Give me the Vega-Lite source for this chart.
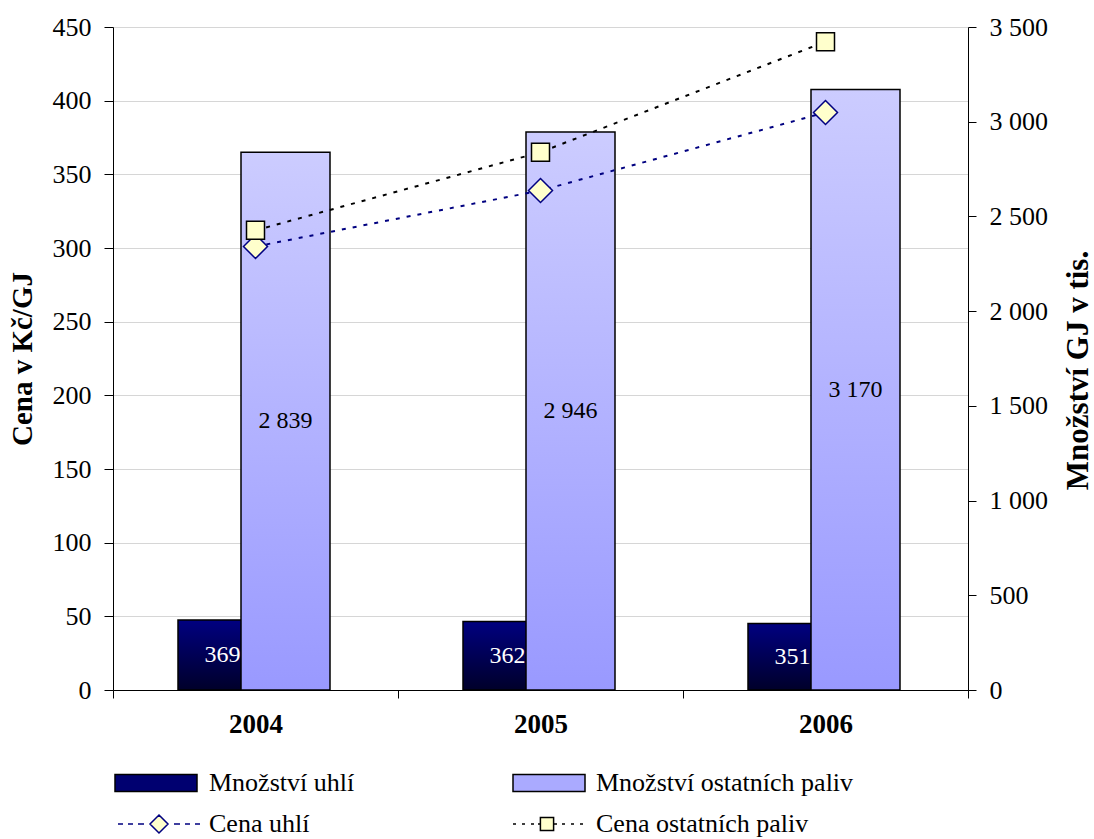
{
  "$schema": "https://vega.github.io/schema/vega-lite/v6.json",
  "width": 855,
  "height": 663,
  "autosize": {"type": "none"},
  "padding": {"left": 113, "top": 27, "right": 126, "bottom": 149},
  "background": "white",
  "config": {
    "font": "Liberation Serif",
    "locale": {"number": {"decimal": ",", "thousands": " ", "grouping": [3], "currency": ["", " Kč"]}},
    "view": {
      "stroke": null,
      "fill": {"gradient": "linear", "x1": 0, "y1": 0, "x2": 1, "y2": 1,
        "stops": [{"offset": 0, "color": "#bebebe"}, {"offset": 0.5, "color": "#ffffff"}, {"offset": 1, "color": "#bebebe"}]}
    },
    "axis": {
      "labelFont": "Liberation Serif",
      "titleFont": "Liberation Serif",
      "labelColor": "black",
      "titleColor": "black",
      "domainColor": "black",
      "tickColor": "black",
      "domainWidth": 1,
      "tickWidth": 1,
      "labelFontSize": 26
    },
    "legend": {"labelFont": "Liberation Serif"}
  },
  "datasets": {
    "mnozstvi": [
      {"rok": "2004", "serie": "Množství uhlí", "hodnota": 369},
      {"rok": "2004", "serie": "Množství ostatních paliv", "hodnota": 2839},
      {"rok": "2005", "serie": "Množství uhlí", "hodnota": 362},
      {"rok": "2005", "serie": "Množství ostatních paliv", "hodnota": 2946},
      {"rok": "2006", "serie": "Množství uhlí", "hodnota": 351},
      {"rok": "2006", "serie": "Množství ostatních paliv", "hodnota": 3170}
    ],
    "ceny": [
      {"rok": "2004", "serie": "Cena uhlí", "cena": 301},
      {"rok": "2005", "serie": "Cena uhlí", "cena": 339},
      {"rok": "2006", "serie": "Cena uhlí", "cena": 392},
      {"rok": "2004", "serie": "Cena ostatních paliv", "cena": 312},
      {"rok": "2005", "serie": "Cena ostatních paliv", "cena": 365},
      {"rok": "2006", "serie": "Cena ostatních paliv", "cena": 440}
    ],
    "legenda": [
      {"serie": "Množství uhlí"},
      {"serie": "Množství ostatních paliv"},
      {"serie": "Cena uhlí"},
      {"serie": "Cena ostatních paliv"}
    ]
  },
  "layer": [
    {
      "data": {"name": "mnozstvi"},
      "transform": [{"filter": "datum.serie == 'Množství uhlí'"}],
      "mark": {"type": "bar", "width": 89, "stroke": "black", "strokeWidth": 1.5,
        "fill": {"gradient": "linear", "x1": 0, "y1": 0, "x2": 0, "y2": 1,
          "stops": [{"offset": 0, "color": "#000080"}, {"offset": 1, "color": "#00002a"}]}},
      "encoding": {
        "x": {
          "field": "rok", "type": "nominal",
          "scale": {"paddingInner": 0, "paddingOuter": 0},
          "axis": {
            "title": null, "labelAngle": 0, "labelFontWeight": "bold", "labelFontSize": 27,
            "tickBand": "extent", "tickSize": 8, "labelPadding": 13, "grid": false
          }
        },
        "xOffset": {
          "field": "serie", "type": "nominal",
          "scale": {"domain": ["Množství uhlí", "Množství ostatních paliv"], "range": [78, 204], "paddingInner": 0, "paddingOuter": 0}
        },
        "y": {
          "field": "hodnota", "type": "quantitative",
          "scale": {"domain": [0, 3500], "nice": false},
          "axis": {
            "orient": "right", "values": [0, 500, 1000, 1500, 2000, 2500, 3000, 3500], "format": ",d",
            "grid": false, "tickSize": 8, "labelPadding": 13,
            "title": "Množství GJ v tis.", "titleFontSize": 31, "titleFontWeight": "bold",
            "titleAngle": 270, "titleBaseline": "top", "titlePadding": 16, "titleY": 343
          }
        }
      }
    },
    {
      "data": {"name": "mnozstvi"},
      "transform": [{"filter": "datum.serie == 'Množství ostatních paliv'"}],
      "mark": {"type": "bar", "width": 89, "stroke": "black", "strokeWidth": 1.5,
        "fill": {"gradient": "linear", "x1": 0, "y1": 0, "x2": 0, "y2": 1,
          "stops": [{"offset": 0, "color": "#ccccff"}, {"offset": 1, "color": "#9999ff"}]}},
      "encoding": {
        "x": {"field": "rok", "type": "nominal"},
        "xOffset": {"field": "serie", "type": "nominal"},
        "y": {"field": "hodnota", "type": "quantitative", "scale": {"domain": [0, 3500], "nice": false}, "axis": null}
      }
    },
    {
      "data": {"name": "mnozstvi"},
      "mark": {"type": "text", "fontSize": 24, "baseline": "middle", "align": "center"},
      "encoding": {
        "x": {"field": "rok", "type": "nominal"},
        "xOffset": {"field": "serie", "type": "nominal"},
        "y": {"field": "hodnota", "type": "quantitative", "scale": {"domain": [0, 7000], "nice": false}, "axis": null},
        "text": {"field": "hodnota", "type": "quantitative", "format": ",d"},
        "color": {"condition": {"test": "datum.serie == 'Množství uhlí'", "value": "white"}, "value": "black"}
      }
    },
    {
      "data": {"name": "ceny"},
      "encoding": {
        "x": {"field": "rok", "type": "nominal"},
        "y": {
          "field": "cena", "type": "quantitative",
          "scale": {"domain": [0, 450], "nice": false},
          "axis": {
            "orient": "left", "values": [0, 50, 100, 150, 200, 250, 300, 350, 400, 450],
            "grid": true, "gridColor": "#d6d6d6", "tickSize": 9, "labelPadding": 13,
            "title": "Cena v Kč/GJ", "titleFontSize": 29, "titleFontWeight": "bold", "titlePadding": 15
          }
        }
      },
      "layer": [
        {
          "transform": [{"filter": "datum.serie == 'Cena uhlí'"}],
          "mark": {"type": "line", "color": "#000080", "strokeWidth": 2, "strokeDash": [4, 7]}
        },
        {
          "transform": [{"filter": "datum.serie == 'Cena ostatních paliv'"}],
          "mark": {"type": "line", "color": "black", "strokeWidth": 2, "strokeDash": [4, 7]}
        },
        {
          "transform": [{"filter": "datum.serie == 'Cena uhlí'"}],
          "mark": {"type": "point", "shape": "diamond", "size": 576, "filled": true, "fill": "#ffffcc", "stroke": "#000080", "strokeWidth": 1.5, "opacity": 1}
        },
        {
          "transform": [{"filter": "datum.serie == 'Cena ostatních paliv'"}],
          "mark": {"type": "point", "shape": "square", "size": 324, "filled": true, "fill": "#ffffcc", "stroke": "black", "strokeWidth": 1.5, "opacity": 1}
        }
      ]
    },
    {
      "data": {"name": "legenda"},
      "transform": [{"filter": "false"}],
      "mark": {"type": "point", "strokeWidth": 1.5, "opacity": 1},
      "encoding": {
        "shape": {
          "field": "serie", "type": "nominal",
          "scale": {
            "domain": ["Množství uhlí", "Množství ostatních paliv", "Cena uhlí", "Cena ostatních paliv"],
            "range": [
              "M-2.05,-0.425H2.05V0.425H-2.05Z",
              "M-1.5,-0.425H2.1V0.425H-1.5Z",
              "M-1.9,0H-1.65M-1.4,0H-1.15M-0.9,0H-0.6M0.9,0H1.2M1.45,0H1.7M1.95,0H2.2M0.15,-0.45L0.6,0L0.15,0.45L-0.3,0Z",
              "M-1.5,0H-1.35M-1.05,0H-0.9M-0.6,0H-0.45M-0.25,0H-0.13M0.53,0H0.7M0.95,0H1.1M1.4,0H1.55M1.85,0H2.0M-0.13,-0.33H0.53V0.33H-0.13Z"
            ]
          },
          "legend": {
            "title": null, "orient": "none", "legendX": 22, "legendY": 735, "direction": "horizontal",
            "columns": 2, "columnPadding": 155, "rowPadding": 7,
            "symbolSize": 1600, "symbolStrokeWidth": 1.5, "symbolOpacity": 1,
            "labelFontSize": 26, "labelOffset": 32, "labelLimit": 500, "labelColor": "black"
          }
        },
        "fill": {
          "field": "serie", "type": "nominal",
          "scale": {
            "domain": ["Množství uhlí", "Množství ostatních paliv", "Cena uhlí", "Cena ostatních paliv"],
            "range": ["#000070", "#aaaaff", "#ffffcc", "#ffffcc"]
          }
        },
        "stroke": {
          "field": "serie", "type": "nominal",
          "scale": {
            "domain": ["Množství uhlí", "Množství ostatních paliv", "Cena uhlí", "Cena ostatních paliv"],
            "range": ["black", "black", "#000080", "black"]
          }
        }
      }
    }
  ],
  "resolve": {"scale": {"y": "independent"}}
}
